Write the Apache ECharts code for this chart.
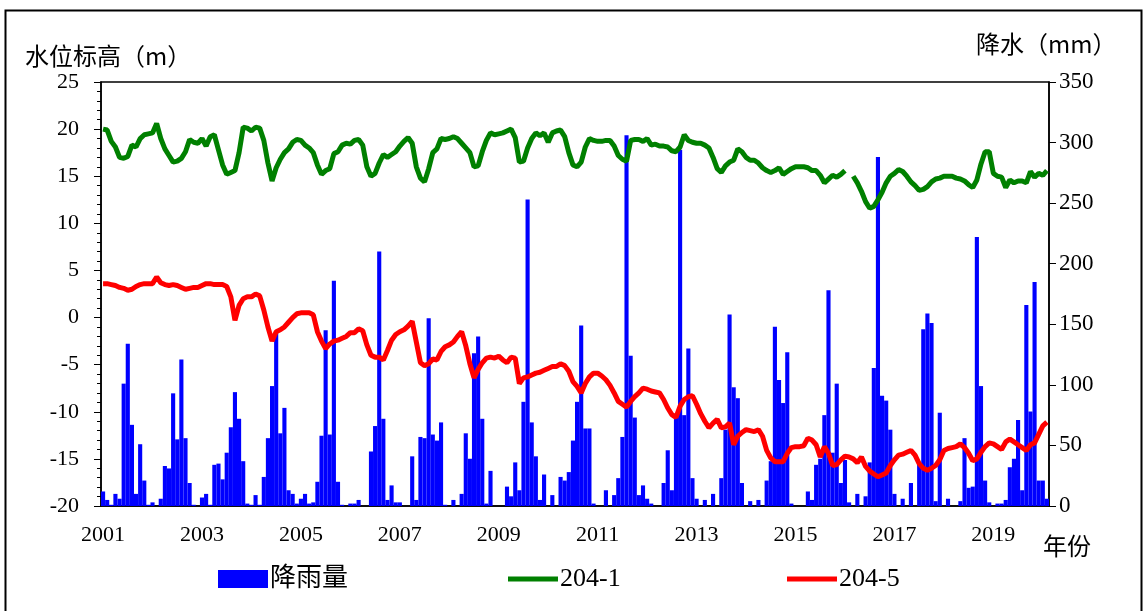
<!DOCTYPE html>
<html>
<head>
<meta charset="utf-8">
<script src="https://cdn.jsdelivr.net/npm/echarts@6/dist/echarts.min.js"></script>
<style>
html,body{margin:0;padding:0;background:#fff;}
#main{width:1144px;height:611px;}
</style>
</head>
<body>
<div id="main"></div>
<script>
// 年份（2001年1月 ~ 2020年2月，逐月）
var years = [2001,2002,2003,2004,2005,2006,2007,2008,2009,2010,2011,2012,2013,2014,2015,2016,2017,2018,2019,2020];
var lastMonths = 2; // 2020年只有2个月

// 降雨量 (mm)
var rain = [
  12,5,1,10,6,101,134,67,10,51,21,1,
  3,0,6,33,31,93,55,121,56,19,1,0,
  7,10,1,34,35,22,44,65,94,72,37,2,
  1,9,1,24,56,99,143,60,81,13,10,2,
  6,10,2,3,20,58,145,59,186,20,1,0,
  2,2,5,0,0,45,66,210,72,5,17,3,
  3,0,0,41,5,57,56,155,59,54,69,1,
  0,5,0,10,60,39,126,140,72,2,29,0,
  0,0,16,8,36,13,86,253,69,41,5,26,
  0,9,0,24,21,28,54,86,149,64,64,2,
  0,0,13,0,9,23,57,306,124,73,9,17,
  6,2,0,0,19,46,13,74,294,75,130,23,
  6,0,5,0,10,0,23,63,158,98,89,19,
  0,4,0,5,0,21,37,148,104,85,127,2,
  0,0,0,12,5,34,39,75,178,44,101,19,
  38,3,0,10,0,8,36,114,288,91,87,63,
  10,0,6,0,19,0,35,146,159,151,4,77,
  0,6,0,0,4,56,15,16,222,99,21,3,
  0,2,2,5,32,39,71,13,166,78,185,21,
  21,6
];

// 204-1 水位标高 (m)
var well2041 = [
  20.0,19.9,18.7,18.1,17.0,16.9,17.1,18.3,18.1,19.0,19.4,19.5,
  19.6,20.6,19.0,17.9,17.2,16.5,16.6,16.9,17.6,18.9,18.6,18.5,
  19.0,18.2,19.2,19.4,17.8,16.2,15.2,15.4,15.6,17.5,20.2,20.1,
  19.8,20.2,20.1,18.8,16.4,14.5,15.9,16.8,17.5,17.9,18.6,18.9,
  18.8,18.3,18.0,17.5,16.2,15.2,15.6,15.8,17.4,17.6,18.3,18.5,
  18.4,18.8,18.9,18.3,16.0,15.0,15.3,16.4,17.3,17.0,17.3,17.6,
  18.2,18.7,19.1,18.5,16.0,14.8,14.4,15.8,17.5,17.9,19.0,18.9,
  19.0,19.2,19.0,18.5,18.0,17.5,16.0,16.1,17.6,18.8,19.6,19.4,
  19.5,19.6,19.8,20.0,19.1,16.5,16.6,18.0,19.0,19.6,19.3,19.6,
  18.6,19.6,19.8,19.9,19.2,17.5,16.2,16.0,16.5,18.1,19.0,18.8,
  18.7,18.7,18.8,18.8,18.2,17.2,16.8,16.6,18.8,18.9,18.9,18.7,
  19.0,18.3,18.4,18.2,18.2,18.1,17.7,17.6,18.1,19.4,18.8,18.6,
  18.5,18.5,18.3,18.0,17.0,15.8,15.4,16.1,16.5,16.7,17.9,17.6,
  17.0,16.7,16.7,16.4,15.9,15.6,15.4,15.6,15.9,15.2,15.5,15.8,
  16.0,16.0,16.0,15.9,15.6,15.6,15.1,14.3,14.7,15.1,14.9,15.2,
  15.6,null,15.0,14.3,13.4,12.3,11.6,11.8,12.5,13.3,14.3,15.0,
  15.3,15.7,15.5,15.0,14.4,14.0,13.5,13.6,13.9,14.4,14.7,14.8,
  15.0,15.0,15.0,14.8,14.7,14.5,14.1,13.8,14.6,16.3,17.6,17.6,
  15.3,15.0,14.9,13.8,14.6,14.3,14.5,14.5,14.3,15.5,14.9,15.3,
  15.1,15.6
];

// 204-5 水位标高 (m)
var well2045 = [
  3.6,3.6,3.5,3.4,3.2,3.1,2.9,3.0,3.3,3.5,3.6,3.6,
  3.6,4.3,3.7,3.5,3.4,3.5,3.4,3.2,3.0,3.1,3.2,3.2,
  3.4,3.6,3.6,3.5,3.5,3.5,3.3,2.2,-0.3,1.3,2.0,2.2,
  2.2,2.5,2.3,0.8,-1.0,-2.5,-1.5,-1.3,-1.0,-0.5,0.0,0.4,
  0.5,0.5,0.5,0.3,-1.5,-2.5,-3.3,-2.8,-2.5,-2.4,-2.2,-2.0,
  -1.6,-1.6,-1.2,-1.4,-2.9,-4.0,-4.2,-4.2,-4.5,-3.5,-2.4,-1.8,
  -1.5,-1.3,-0.9,-0.4,-2.6,-4.8,-5.1,-4.9,-4.4,-4.5,-3.6,-3.1,
  -2.9,-2.6,-2.0,-1.5,-3.0,-4.9,-6.4,-5.5,-4.8,-4.3,-4.2,-4.3,
  -4.1,-4.5,-4.8,-4.2,-4.3,-7.0,-6.4,-6.3,-6.1,-5.9,-5.8,-5.6,
  -5.4,-5.2,-5.2,-4.9,-5.1,-5.7,-6.8,-7.3,-8.0,-7.0,-6.3,-5.9,
  -5.9,-6.2,-6.6,-7.2,-8.0,-8.9,-9.2,-9.5,-8.9,-8.4,-8.0,-7.5,
  -7.6,-7.8,-7.9,-8.0,-8.7,-9.6,-10.3,-10.6,-9.4,-8.7,-8.4,-8.3,
  -9.2,-10.2,-11.0,-11.7,-11.2,-10.8,-11.7,-11.6,-11.2,-13.5,-12.6,-12.2,
  -11.9,-12.0,-12.1,-11.9,-12.6,-14.1,-14.9,-15.3,-15.3,-15.3,-14.4,-13.8,
  -13.7,-13.7,-13.6,-12.8,-13.0,-13.5,-14.8,-13.7,-14.4,-15.7,-15.6,-15.1,
  -14.7,-14.8,-15.0,-15.4,-14.8,-15.8,-16.3,-16.6,-16.9,-16.7,-16.5,-15.7,
  -15.1,-14.6,-14.5,-14.3,-14.1,-14.6,-15.5,-16.0,-16.2,-16.0,-15.7,-15.1,
  -14.1,-13.9,-13.8,-13.7,-13.4,-13.8,-14.4,-15.2,-15.0,-14.3,-13.7,-13.3,
  -13.4,-13.7,-14.0,-13.2,-12.9,-13.2,-13.5,-13.8,-14.1,-13.5,-13.3,-12.4,
  -11.5,-11.1
];

// 月份类目
var months = [];
for (var y = 0; y < years.length; y++) {
  var n = (y == years.length - 1) ? lastMonths : 12;
  for (var m = 1; m <= n; m++) {
    months.push(years[y] + '-' + (m < 10 ? '0' + m : m));
  }
}

var numFont = '"Liberation Serif","Noto Sans CJK SC"';
var cjkFont = '"Noto Sans CJK SC"';
var lineIcon = 'path://M0,0H52V5H0Z';

// 图例公共样式
function legendItem(left, item) {
  return {
    left: left, top: 566, padding: 0,
    itemWidth: 50, itemHeight: 18, itemGap: 0,
    textStyle: { color: '#000', fontSize: 26, fontFamily: numFont, padding: [0, 0, 0, -3] },
    data: [item]
  };
}

var myChart = echarts.init(document.getElementById('main'));
var option = {
  backgroundColor: '#fff',
  animation: false,
  grid: {
    left: 101, right: 95, top: 82, bottom: 105,
    show: true, borderColor: '#000', borderWidth: 1.5
  },
  legend: [
    legendItem(218, { name: '降雨量', icon: 'rect' }),
    legendItem(508, { name: '204-1', icon: lineIcon }),
    legendItem(787, { name: '204-5', icon: lineIcon })
  ],
  graphic: [
    { type: 'rect', left: 3, top: 8, shape: { width: 1136, height: 640 },
      style: { fill: 'none', stroke: '#000', lineWidth: 2 } },
    { type: 'text', left: 25, top: 44,
      style: { text: '水位标高（m）', fontSize: 24, fontFamily: cjkFont, fill: '#000' } },
    { type: 'text', left: 976, top: 32,
      style: { text: '降水（mm）', fontSize: 24, fontFamily: cjkFont, fill: '#000' } },
    { type: 'text', left: 1043, top: 534,
      style: { text: '年份', fontSize: 24, fontFamily: cjkFont, fill: '#000' } }
  ],
  xAxis: {
    type: 'category',
    data: months,
    boundaryGap: true,
    axisLine: { onZero: false, lineStyle: { color: '#000', width: 1.5 } },
    axisTick: {
      inside: true, length: 5,
      interval: function (index) { return index % 6 === 0; },
      lineStyle: { color: '#000' }
    },
    axisLabel: {
      interval: function (index) { return index % 24 === 0; },
      formatter: function (v) { return v.substring(0, 4); },
      color: '#000', fontSize: 22, fontFamily: numFont, margin: 18
    },
    splitLine: { show: false }
  },
  yAxis: [
    {
      type: 'value', min: -20, max: 25, interval: 5,
      axisLine: { show: true, lineStyle: { color: '#000', width: 1.5 } },
      axisTick: { show: true, length: 7, lineStyle: { color: '#000' } },
      minorTick: { show: true, splitNumber: 5, length: 4, lineStyle: { color: '#000' } },
      axisLabel: { color: '#000', fontSize: 22, fontFamily: numFont, margin: 22 },
      splitLine: { show: false }
    },
    {
      type: 'value', min: 0, max: 350, interval: 50,
      axisLine: { show: true, lineStyle: { color: '#000', width: 1.5 } },
      axisTick: { show: true, length: 7, lineStyle: { color: '#000' } },
      axisLabel: { color: '#000', fontSize: 23, fontFamily: numFont, margin: 10 },
      splitLine: { show: false }
    }
  ],
  series: [
    {
      name: '降雨量', type: 'bar', yAxisIndex: 1,
      barCategoryGap: '0%',
      itemStyle: { color: '#0000ff' },
      data: rain
    },
    {
      name: '204-1', type: 'line', yAxisIndex: 0,
      symbol: 'none', connectNulls: false,
      lineStyle: { color: '#008000', width: 5 },
      itemStyle: { color: '#008000' },
      data: well2041
    },
    {
      name: '204-5', type: 'line', yAxisIndex: 0,
      symbol: 'none',
      lineStyle: { color: '#ff0000', width: 5 },
      itemStyle: { color: '#ff0000' },
      data: well2045
    }
  ]
};
if (option && typeof option === 'object') {
  myChart.setOption(option, true);
}
</script>
</body>
</html>
